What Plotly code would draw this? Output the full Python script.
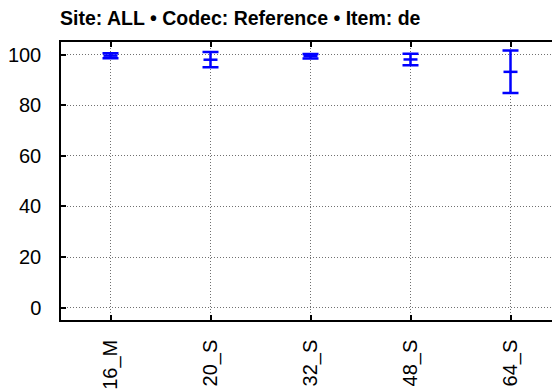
import plotly.graph_objects as go

codecs = ["16_M", "20_S", "32_S", "48_S", "64_S"]
mean_score = [99.6, 98.0, 99.4, 98.1, 93.2]
ci_half = [1.0, 3.0, 0.9, 2.3, 8.4]
y_ticks = [0, 20, 40, 60, 80, 100]

# page body adds an 8px margin, so the figure is 8px smaller and offsets are shifted
W, H = 552, 381
font_fam = "Liberation Sans, Arial"

fig = go.Figure()
fig.add_trace(go.Scatter(
    x=codecs, y=mean_score, mode="markers",
    marker=dict(symbol="line-ew", size=10, color="#0000ff",
                line=dict(color="#0000ff", width=2.5)),
    error_y=dict(type="data", array=ci_half, visible=True,
                 color="#0000ff", thickness=2.5, width=8),
    showlegend=False, hoverinfo="skip",
))
# invisible copy on a right-hand axis, only so the right ticks get drawn
fig.add_trace(go.Scatter(
    x=codecs, y=mean_score, yaxis="y2", mode="markers",
    marker=dict(opacity=0), showlegend=False, hoverinfo="skip",
))

grid = dict(showgrid=True, gridcolor="#707070", griddash="1px,2px", gridwidth=1)
ticks = dict(ticks="inside", ticklen=5, tickcolor="black", tickwidth=1.5)

fig.update_layout(
    width=W, height=H,
    margin=dict(l=53, r=0, t=34, b=69),
    plot_bgcolor="white", paper_bgcolor="white",
    xaxis=dict(type="category", range=[-0.495, 4.495], tickangle=-90,
               showline=True, mirror="ticks", linecolor="black", linewidth=1.5,
               zeroline=False, automargin=False, ticklabelstandoff=10,
               tickfont=dict(family=font_fam, size=20, color="black"),
               **grid, **ticks),
    yaxis=dict(range=[-4.9, 105], tickvals=y_ticks,
               showline=True, linecolor="black", linewidth=1.5,
               zeroline=False, automargin=False, ticklabelstandoff=14,
               tickfont=dict(family=font_fam, size=20, color="black"),
               **grid, **ticks),
    yaxis2=dict(range=[-4.9, 105], tickvals=y_ticks, overlaying="y", side="right",
                showticklabels=False, showgrid=False, showline=False,
                zeroline=False, automargin=False, **ticks),
    title=dict(text="<b>Site: ALL • Codec: Reference • Item: de</b>",
               x=52 / W, xanchor="left", y=1 - 10 / H, yanchor="middle",
               font=dict(family=font_fam, size=19.5, color="black")),
)

fig.write_html("out.html")
